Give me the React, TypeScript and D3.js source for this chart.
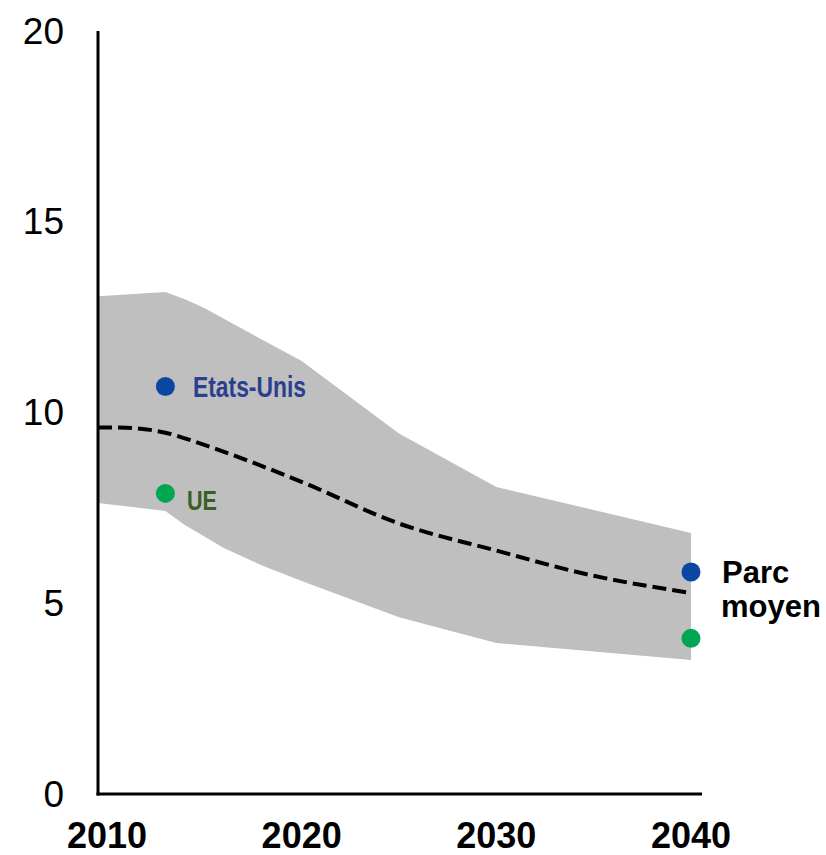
import React from "react";
import * as d3 from "d3";

const bandYears = [2009.5, 2013, 2014, 2015, 2016, 2018, 2020, 2025, 2030, 2040];
const bandUpper = [13.05, 13.16, 12.97, 12.74, 12.46, 11.9, 11.35, 9.45, 8.05, 6.84];
const bandLower = [7.63, 7.42, 7.05, 6.75, 6.45, 5.98, 5.58, 4.63, 3.96, 3.51];

const meanYears = [2009.5, 2011, 2013, 2015, 2020, 2025, 2030, 2035, 2040];
const meanValues = [9.61, 9.6, 9.47, 9.15, 8.18, 7.09, 6.38, 5.72, 5.27];

const dotYears = [2013, 2013, 2040, 2040];
const dotValues = [10.68, 7.88, 5.82, 4.08];
const dotColors = ["#0B46A0", "#00A651", "#0B46A0", "#00A651"];

const yTicks = [0, 5, 10, 15, 20];
const xTicks = [2010, 2020, 2030, 2040];

const W = 826;
const H = 855;

export default function App() {
  const x = d3.scaleLinear().domain([2010, 2040]).range([107, 691]);
  const y = d3.scaleLinear().domain([0, 20]).range([794, 31]);
  const x0 = 98;
  const xEnd = 702;

  const band = bandYears.map((yr, i) => ({ yr, hi: bandUpper[i], lo: bandLower[i] }));
  const areaGen = d3
    .area<{ yr: number; hi: number; lo: number }>()
    .x((d) => Math.max(x0, x(d.yr)))
    .y0((d) => y(d.lo))
    .y1((d) => y(d.hi))
    .curve(d3.curveLinear);

  const mean = meanYears.map((yr, i) => ({ yr, v: meanValues[i] }));
  const lineGen = d3
    .line<{ yr: number; v: number }>()
    .x((d) => Math.max(x0, x(d.yr)))
    .y((d) => y(d.v))
    .curve(d3.curveMonotoneX);

  const font = "'Liberation Sans', Arial, sans-serif";

  return (
    <svg
      width={W}
      height={H}
      style={{ position: "absolute", left: 0, top: 0, background: "#fff" }}
      fontFamily={font}
    >
      <path d={areaGen(band) || ""} fill="#BFBFBF" />
      <path
        d={lineGen(mean) || ""}
        fill="none"
        stroke="#000"
        strokeWidth={4}
        strokeDasharray="14 6"
      />
      {dotYears.map((yr, i) => (
        <circle key={i} cx={x(yr)} cy={y(dotValues[i])} r={9.5} fill={dotColors[i]} />
      ))}

      {/* axes */}
      <line x1={x0} x2={x0} y1={y(20)} y2={y(0) + 1.5} stroke="#000" strokeWidth={3} />
      <line x1={x0 - 1.5} x2={xEnd} y1={y(0)} y2={y(0)} stroke="#000" strokeWidth={3} />

      {yTicks.map((t) => (
        <text key={t} x={64} y={y(t) + 12.5} textAnchor="end" fontSize={37} fill="#000">
          {t}
        </text>
      ))}
      {xTicks.map((t) => (
        <text
          key={t}
          x={x(t)}
          y={848}
          textAnchor="middle"
          fontSize={36}
          fontWeight="bold"
          fill="#000"
        >
          {t}
        </text>
      ))}

      {/* labels */}
      <text
        x={193}
        y={397}
        fontSize={29}
        fontWeight="bold"
        fill="#2B3F8F"
        textLength={113}
        lengthAdjust="spacingAndGlyphs"
      >
        Etats-Unis
      </text>
      <text
        x={187}
        y={510}
        fontSize={28}
        fontWeight="bold"
        fill="#3A5F23"
        textLength={30}
        lengthAdjust="spacingAndGlyphs"
      >
        UE
      </text>
      <text x={722} y={583} fontSize={31} fontWeight="bold" fill="#000">
        Parc
      </text>
      <text x={721} y={617} fontSize={31} fontWeight="bold" fill="#000">
        moyen
      </text>
    </svg>
  );
}
